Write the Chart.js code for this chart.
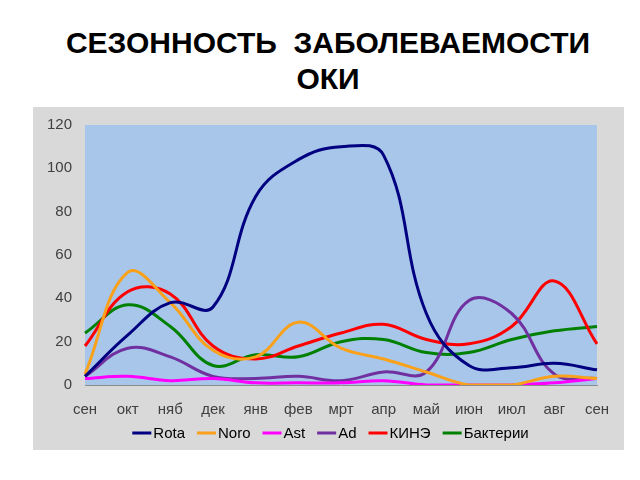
<!DOCTYPE html>
<html>
<head>
<meta charset="utf-8">
<script src="https://cdn.jsdelivr.net/npm/chart.js@4.4.0/dist/chart.umd.min.js"></script>
<style>
  html, body { margin: 0; padding: 0; background: #fff; }
  body { width: 640px; height: 480px; position: relative; overflow: hidden; }
  #title {
    position: absolute; left: 8px; top: 25px; width: 640px; text-align: center;
    font-family: "Liberation Sans", Arial, sans-serif;
    font-weight: bold; font-size: 30px; line-height: 36px; color: #000;
  }
  #box {
    position: absolute; left: 33px; top: 107px; width: 591px; height: 343px;
    background: #d9d9d9;
  }
</style>
</head>
<body>
<div id="title">СЕЗОННОСТЬ&nbsp; ЗАБОЛЕВАЕМОСТИ<br>ОКИ</div>
<div id="box"><canvas id="chart" width="591" height="343"></canvas></div>
<script>
// Months (Sep to Sep)
const months = ["сен", "окт", "няб", "дек", "янв", "фев", "мрт", "апр", "май", "июн", "июл", "авг", "сен"];
const yTicks = [0, 20, 40, 60, 80, 100, 120];

// Series values
const rota     = [4, 23, 38, 36, 87, 104, 110, 106, 33, 9, 8, 10, 7];
const noro     = [5, 52, 38, 16, 13, 29, 17, 12, 6, 0, 0, 4, 3];
const ast      = [3, 4, 2, 3, 1, 1, 1, 2, 0, 0, 0, 1, 3];
const ad       = [4, 17, 13, 4, 3, 4, 2, 6, 6, 39, 33, 5, 3];
const kine     = [18, 43, 42, 18, 12, 18, 24, 28, 21, 19, 27, 48, 19];
const bacteria = [24, 37, 27, 9, 14, 13, 20, 21, 15, 15, 21, 25, 27];

const seriesNames = ["Rota", "Noro", "Ast", "Ad", "КИНЭ", "Бактерии"];
const seriesData = [rota, noro, ast, ad, kine, bacteria];
const seriesColors = ["#000080", "#f9a11b", "#ff00ff", "#7030a0", "#ff0000", "#008000"];

const FONT = "'Liberation Sans', Arial, sans-serif";

// paint plot area blue
const plotBg = {
  id: "plotBg",
  beforeDraw(chart) {
    const { ctx, chartArea: a } = chart;
    ctx.save();
    ctx.fillStyle = "#a8c6ea";
    ctx.fillRect(a.left, a.top, a.right - a.left, a.bottom - a.top);
    ctx.restore();
  }
};

// compact legend: short line right next to the name
const lineLegend = {
  id: "lineLegend",
  afterDraw(chart) {
    const ctx = chart.ctx;
    const lineW = 19, gap = 2, itemGap = 12;
    ctx.save();
    ctx.font = "15px " + FONT;
    ctx.textBaseline = "middle";
    const items = chart.data.datasets.map(ds => ({
      label: ds.label, color: ds.borderColor, w: lineW + gap + ctx.measureText(ds.label).width,
    }));
    const total = items.reduce((s, it) => s + it.w, 0) + itemGap * (items.length - 1);
    let x = chart.width / 2 + 2 - total / 2;
    const y = 326;
    items.forEach(it => {
      ctx.fillStyle = it.color;
      ctx.fillRect(x, y - 1.5, lineW, 3);
      ctx.fillStyle = "#000";
      ctx.fillText(it.label, x + lineW + gap, y + 1);
      x += it.w + itemGap;
    });
    ctx.restore();
  }
};

new Chart(document.getElementById("chart"), {
  type: "line",
  data: {
    labels: months,
    datasets: seriesData.map((d, i) => ({
      label: seriesNames[i],
      data: d,
      borderColor: seriesColors[i],
      backgroundColor: seriesColors[i],
      borderWidth: 3,
      pointRadius: 0,
      tension: 0.4,
      fill: false,
    })),
  },
  options: {
    responsive: false,
    animation: false,
    layout: { padding: { top: 18, right: 27, left: 0, bottom: 29 } },
    plugins: {
      legend: { display: false },
      tooltip: { enabled: false },
    },
    scales: {
      x: {
        offset: false,
        afterFit: s => { s.height = 36; s.paddingLeft = 0; s.paddingRight = 0; },
        grid: { display: false, drawTicks: false },
        border: { color: "#8c8c8c", width: 1 },
        ticks: { color: "#404040", font: { family: FONT, size: 15 }, padding: 16, maxRotation: 0, autoSkip: false },
      },
      y: {
        min: 0, max: 120,
        afterBuildTicks: s => { s.ticks = yTicks.map(v => ({ value: v })); },
        afterFit: s => { s.width = 52; s.paddingTop = 0; s.paddingBottom = 0; },
        grid: { display: false, drawTicks: false },
        border: { display: false },
        ticks: { color: "#404040", font: { family: FONT, size: 15 }, padding: 13 },
      },
    },
  },
  plugins: [plotBg, lineLegend],
});
</script>
</body>
</html>
